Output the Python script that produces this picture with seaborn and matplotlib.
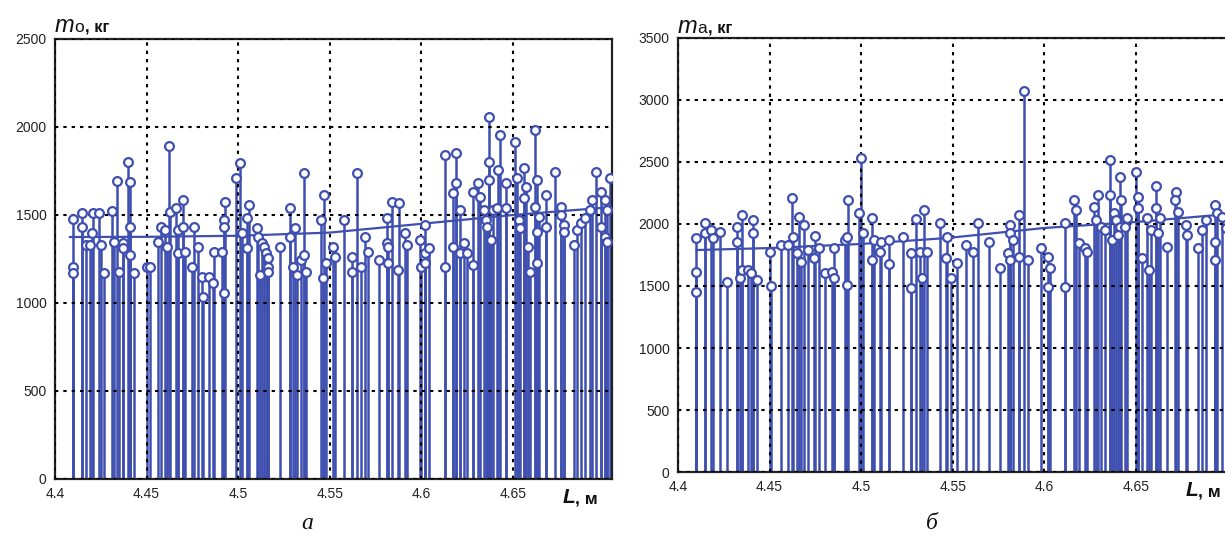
import matplotlib
matplotlib.use("Agg")
import matplotlib.pyplot as plt
import matplotlib.transforms as mtransforms
import numpy as np
import pandas as pd
import seaborn as sns

sns.set_theme(style="white")
plt.rcParams["font.family"] = ["Liberation Sans", "DejaVu Sans"]

# ---- panel (a): m0 versus L ----
L_a = [4.410, 4.410, 4.410, 4.415, 4.415, 4.417, 4.419, 4.420, 4.421, 4.424,
       4.425, 4.427, 4.431, 4.432, 4.434, 4.435, 4.437, 4.437, 4.440, 4.441,
       4.441, 4.441, 4.443, 4.450, 4.452, 4.456, 4.458, 4.460, 4.461, 4.462,
       4.463, 4.466, 4.467, 4.467, 4.470, 4.470, 4.471, 4.475, 4.476, 4.478,
       4.480, 4.481, 4.484, 4.486, 4.487, 4.491, 4.492, 4.493, 4.492, 4.492,
       4.501, 4.499, 4.502, 4.506, 4.505, 4.505, 4.510, 4.511, 4.513, 4.514,
       4.515, 4.516, 4.516, 4.512, 4.516, 4.523, 4.528, 4.528, 4.531, 4.530,
       4.532, 4.534, 4.536, 4.536, 4.537, 4.545, 4.547, 4.548, 4.546, 4.552,
       4.553, 4.558, 4.562, 4.562, 4.565, 4.567, 4.569, 4.571, 4.577, 4.581,
       4.584, 4.581, 4.582, 4.582, 4.587, 4.588, 4.591, 4.592, 4.599, 4.600,
       4.602, 4.602, 4.604, 4.602, 4.613, 4.613, 4.617, 4.617, 4.619, 4.619,
       4.621, 4.621, 4.623, 4.625, 4.628, 4.628, 4.631, 4.632, 4.634, 4.635,
       4.636, 4.638, 4.637, 4.637, 4.637, 4.639, 4.642, 4.643, 4.641, 4.646,
       4.646, 4.651, 4.652, 4.656, 4.656, 4.657, 4.653, 4.654, 4.658, 4.659,
       4.663, 4.662, 4.663, 4.662, 4.664, 4.663, 4.668, 4.668, 4.673, 4.676,
       4.676, 4.678, 4.678, 4.683, 4.685, 4.687, 4.689, 4.693, 4.692, 4.695,
       4.698, 4.698, 4.700, 4.701, 4.700, 4.703, 4.701]
m0 = [1477, 1206, 1170, 1511, 1432, 1330, 1330, 1398, 1511, 1511,
      1330, 1170, 1523, 1347, 1693, 1176, 1341, 1312, 1801, 1688,
      1432, 1273, 1170, 1205, 1205, 1347, 1432, 1415, 1318, 1892,
      1517, 1540, 1415, 1284, 1432, 1585, 1290, 1205, 1432, 1318,
      1148, 1034, 1148, 1114, 1290, 1290, 1057, 1574, 1472, 1432,
      1796, 1710, 1398, 1557, 1483, 1313, 1426, 1375, 1341, 1318,
      1284, 1256, 1205, 1159, 1176, 1318, 1540, 1375, 1426, 1205,
      1159, 1244, 1738, 1273, 1176, 1472, 1614, 1227, 1142, 1318,
      1261, 1472, 1261, 1176, 1738, 1205, 1375, 1290, 1244, 1483,
      1574, 1341, 1318, 1227, 1188, 1568, 1398, 1330, 1358, 1205,
      1284, 1227, 1313, 1443, 1841, 1205, 1625, 1318, 1682, 1852,
      1528, 1284, 1341, 1284, 1216, 1631, 1682, 1602, 1528, 1472,
      1432, 1358, 2057, 1801, 1699, 1528, 1756, 1955, 1540, 1682,
      1540, 1915, 1710, 1767, 1597, 1659, 1472, 1426, 1318, 1176,
      1227, 1983, 1699, 1545, 1489, 1404, 1614, 1432, 1744, 1545,
      1500, 1443, 1404, 1330, 1415, 1455, 1483, 1585, 1528, 1744,
      1631, 1432, 1375, 1347, 1585, 1710, 1528]
L_fit_a = [4.408, 4.45, 4.50, 4.55, 4.60, 4.65, 4.704]
m0_fit = [1375, 1376, 1382, 1400, 1450, 1500, 1545]

# ---- panel (b): ma versus L ----
L_b = [4.410, 4.410, 4.410, 4.415, 4.415, 4.418, 4.419, 4.423, 4.427, 4.432,
       4.432, 4.435, 4.434, 4.435, 4.438, 4.441, 4.441, 4.440, 4.443, 4.450,
       4.451, 4.456, 4.460, 4.462, 4.463, 4.465, 4.466, 4.469, 4.467, 4.471,
       4.474, 4.475, 4.477, 4.480, 4.484, 4.485, 4.485, 4.491, 4.492, 4.493,
       4.492, 4.499, 4.500, 4.501, 4.506, 4.506, 4.507, 4.510, 4.511, 4.515,
       4.515, 4.523, 4.527, 4.527, 4.530, 4.532, 4.533, 4.534, 4.536, 4.543,
       4.546, 4.549, 4.547, 4.552, 4.557, 4.561, 4.564, 4.570, 4.576, 4.581,
       4.581, 4.580, 4.581, 4.583, 4.586, 4.586, 4.591, 4.589, 4.598, 4.602,
       4.603, 4.602, 4.611, 4.611, 4.616, 4.617, 4.619, 4.622, 4.623, 4.627,
       4.629, 4.628, 4.631, 4.633, 4.636, 4.636, 4.638, 4.639, 4.641, 4.642,
       4.641, 4.637, 4.640, 4.645, 4.644, 4.650, 4.651, 4.651, 4.653, 4.656,
       4.658, 4.657, 4.661, 4.661, 4.663, 4.662, 4.667, 4.672, 4.671, 4.673,
       4.677, 4.678, 4.684, 4.686, 4.688, 4.693, 4.694, 4.693, 4.697, 4.699,
       4.693]
ma = [1885, 1615, 1454, 2008, 1927, 1952, 1887, 1935, 1532, 1976,
      1855, 2073, 1565, 1629, 1629, 2032, 1927, 1605, 1548, 1774,
      1500, 1831, 1831, 2210, 1895, 1766, 2056, 1992, 1694, 1790,
      1726, 1903, 1806, 1605, 1613, 1565, 1806, 1871, 1895, 2194,
      1508, 2089, 2532, 1927, 2048, 1710, 1871, 1774, 1855, 1871,
      1677, 1895, 1766, 1484, 2040, 1774, 1565, 2113, 1774, 2008,
      1726, 1565, 1895, 1686, 1831, 1774, 2008, 1855, 1645, 1992,
      1927, 1766, 1710, 1871, 2073, 1734, 1710, 3075, 1806, 1734,
      1645, 1492, 2008, 1492, 2194, 2113, 1847, 1806, 1774, 2137,
      2234, 2032, 1976, 1952, 2516, 2234, 2089, 2032, 2379, 2194,
      1976, 1871, 1911, 2048, 1976, 2419, 2218, 2129, 1726, 2048,
      1952, 1629, 2307, 2129, 2048, 1927, 1814, 2258, 2194, 2097,
      1992, 1911, 1806, 1952, 2032, 2153, 2089, 1855, 2056, 1968,
      1710]
L_fit_b = [4.410, 4.45, 4.50, 4.547, 4.60, 4.65, 4.704]
ma_fit = [1790, 1806, 1839, 1887, 1968, 2016, 2085]

x_ticks = [4.40, 4.45, 4.50, 4.55, 4.60, 4.65]
x_tick_labels = ["4.4", "4.45", "4.5", "4.55", "4.6", "4.65"]

STEM = "#3f4fb0"
W, H = 1225, 553
fig = plt.figure(figsize=(W / 100, H / 100), dpi=100)
ax_a = fig.add_axes([55 / W, 1 - 479 / H, 557 / W, 440 / H])
ax_b = fig.add_axes([678 / W, 1 - 472 / H, 557 / W, 434 / H])


def stem_panel(ax, L, m, L_fit, m_fit, ymax):
    df = pd.DataFrame({"L": L, "m": m})
    fit = pd.DataFrame({"L": L_fit, "m": m_fit})
    ax.vlines(df["L"], 0, df["m"], color=STEM, linewidth=1.8, zorder=2)
    sns.lineplot(data=fit, x="L", y="m", ax=ax, color=STEM,
                 linewidth=1.6, zorder=3)
    sns.scatterplot(data=df, x="L", y="m", ax=ax, marker="o", s=40,
                    color="white", edgecolor=STEM, linewidth=1.6, zorder=4)
    ax.set_xlim(4.4, 4.704)
    ax.set_ylim(0, ymax)
    ax.set_xticks(x_ticks, x_tick_labels)
    ax.set_yticks(np.arange(0, ymax + 1, 500))
    ax.set_xlabel("")
    ax.set_ylabel("")
    ax.set_axisbelow(False)
    ax.grid(True, color="black", linestyle=(0, (1.6, 2.4)), linewidth=1.5)
    ax.tick_params(axis="both", length=0, labelsize=10, colors="#222222")
    ax.tick_params(axis="x", pad=6)
    ax.tick_params(axis="y", pad=6)
    for sp in ax.spines.values():
        sp.set_color("#222222")
        sp.set_linewidth(1.6)
        sp.set_visible(True)


def y_title(ax, sub, dy):
    ax.text(0.0, 1 + dy, "m", transform=ax.transAxes, fontsize=17,
            style="italic", color="#111111", ha="left", va="baseline")
    tr = mtransforms.offset_copy(ax.transAxes, fig=fig, x=19, y=0, units="dots")
    ax.text(0.0, 1 + dy, sub, transform=tr, fontsize=12.5, color="#111111",
            ha="left", va="baseline")
    tr2 = mtransforms.offset_copy(ax.transAxes, fig=fig, x=30, y=0, units="dots")
    ax.text(0.0, 1 + dy, ", кг", transform=tr2, fontsize=12, weight="bold",
            color="#111111", ha="left", va="baseline")


def x_title(ax, dy):
    ax.text(0.912, -dy, "L", transform=ax.transAxes, fontsize=15,
            style="italic", weight="bold", color="#111111",
            ha="left", va="baseline")
    tr = mtransforms.offset_copy(ax.transAxes, fig=fig, x=12, y=0, units="dots")
    ax.text(0.912, -dy, ", м", transform=tr, fontsize=12.5, weight="bold",
            color="#111111", ha="left", va="baseline")


stem_panel(ax_a, L_a, m0, L_fit_a, m0_fit, 2500)
stem_panel(ax_b, L_b, ma, L_fit_b, ma_fit, 3500)
y_title(ax_a, "o", 0.016)
y_title(ax_b, "a", 0.012)
x_title(ax_a, 0.055)
x_title(ax_b, 0.056)

fig.text(307 / W, 1 - 529 / H, "а", family="Liberation Serif", style="italic",
         fontsize=17, ha="center", va="baseline", color="#111111")
fig.text(932 / W, 1 - 529 / H, "б", family="Liberation Serif", style="italic",
         fontsize=17, ha="center", va="baseline", color="#111111")

fig.savefig("out.png", dpi=100)
